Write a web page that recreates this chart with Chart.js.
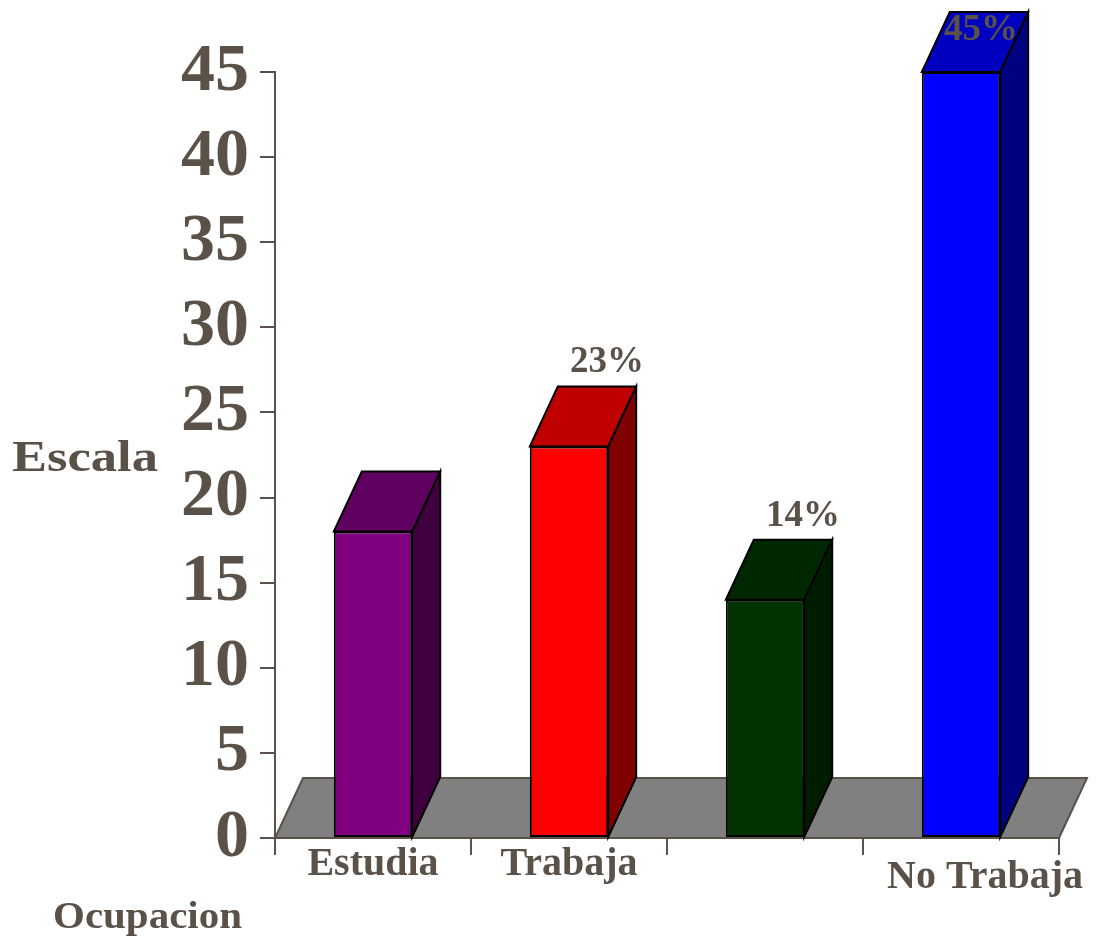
<!DOCTYPE html>
<html>
<head>
<meta charset="utf-8">
<script src="https://cdn.jsdelivr.net/npm/chart.js@4.4.1/dist/chart.umd.min.js"></script>
<style>
  html, body { margin: 0; padding: 0; background: #fff; }
</style>
</head>
<body>
<canvas id="ocupacionChart" width="1096" height="941"></canvas>
<script>
const categories = ['Estudia', 'Trabaja', '', 'No Trabaja'];
const values = [18, 23, 14, 45];
const valueLabels = [null, '23%', '14%', '45%'];
const frontColors = ['#800080', '#ff0000', '#003300', '#0000ff'];
const topColors = ['#600060', '#c00000', '#002800', '#0000c0'];
const sideColors = ['#400040', '#800000', '#001c00', '#000080'];

const TXT = '#5a5149';
const SERIF = '"Liberation Serif", "Times New Roman", serif';
const DX = 28, DY = -60;

function poly(ctx, pts, fill, stroke) {
    ctx.beginPath();
    ctx.moveTo(pts[0][0], pts[0][1]);
    for (let i = 1; i < pts.length; i++) ctx.lineTo(pts[i][0], pts[i][1]);
    ctx.closePath();
    ctx.fillStyle = fill;
    ctx.fill();
    ctx.lineWidth = 2;
    ctx.strokeStyle = stroke;
    ctx.stroke();
}

// draw text stretched sideways to a given width
function wideText(ctx, text, x, y, w) {
    const sx = w / ctx.measureText(text).width;
    ctx.save();
    ctx.translate(x, y);
    ctx.scale(sx, 1);
    ctx.fillText(text, 0, 0);
    ctx.restore();
}

const threeD = {
    id: 'threeD',
    beforeDatasetsDraw(chart) {
        const { ctx, chartArea: a } = chart;
        ctx.save();
        poly(ctx, [[a.left, a.bottom], [a.right, a.bottom], [a.right + DX, a.bottom + DY], [a.left + DX, a.bottom + DY]], '#808080', TXT);
        ctx.restore();
    },
    afterDatasetsDraw(chart) {
        const ctx = chart.ctx;
        const meta = chart.getDatasetMeta(0);
        ctx.save();
        meta.data.forEach((bar, i) => {
            const l = bar.x - bar.width / 2, r = bar.x + bar.width / 2;
            poly(ctx, [[l, bar.y], [r, bar.y], [r + DX, bar.y + DY], [l + DX, bar.y + DY]], topColors[i], '#000');
            poly(ctx, [[r, bar.y], [r + DX, bar.y + DY], [r + DX, bar.base + DY], [r, bar.base]], sideColors[i], '#000');
        });
        // value labels, pushed inside the top face when there is no room above
        ctx.fillStyle = TXT;
        ctx.font = 'bold 37px ' + SERIF;
        ctx.textAlign = 'center';
        ctx.textBaseline = 'alphabetic';
        meta.data.forEach((bar, i) => {
            if (!valueLabels[i]) return;
            const y = bar.y - 74;
            if (y < 40) ctx.fillText(valueLabels[i], bar.x + 20, 40);
            else ctx.fillText(valueLabels[i], bar.x + 38, y);
        });
        ctx.restore();
    },
    afterDraw(chart) {
        const { ctx, scales } = chart;
        ctx.save();
        ctx.fillStyle = TXT;
        ctx.textBaseline = 'alphabetic';
        // category labels
        ctx.font = 'bold 40px ' + SERIF;
        ctx.textAlign = 'center';
        categories.forEach((c, i) => {
            const x = scales.x.getPixelForTick(i);
            const last = i === categories.length - 1;
            ctx.fillText(c, x + (last ? 24 : 0), scales.x.top + (last ? 50 : 37));
        });
        // axis titles
        ctx.textAlign = 'left';
        ctx.font = 'bold 44px ' + SERIF;
        wideText(ctx, 'Escala', 12, 471, 146);
        ctx.font = 'bold 37px ' + SERIF;
        wideText(ctx, 'Ocupacion', 53, 928, 189);
        ctx.restore();
    }
};

new Chart(document.getElementById('ocupacionChart'), {
    type: 'bar',
    data: {
        labels: categories,
        datasets: [{
            data: values,
            backgroundColor: frontColors,
            borderColor: '#000',
            borderWidth: 2,
            borderSkipped: false,
            barPercentage: 0.4,
            categoryPercentage: 1
        }]
    },
    options: {
        responsive: false,
        devicePixelRatio: 1,
        animation: false,
        layout: { padding: { top: 72, right: 37, left: 0, bottom: 0 } },
        plugins: { legend: { display: false }, tooltip: { enabled: false } },
        scales: {
            y: {
                min: 0,
                max: 45,
                ticks: {
                    stepSize: 5,
                    color: TXT,
                    padding: 11,
                    font: { family: SERIF, size: 68, weight: 'bold' }
                },
                grid: { drawOnChartArea: false, tickLength: 15, color: TXT, lineWidth: 2 },
                border: { color: TXT, width: 2 },
                afterFit(s) { s.width = 275; }
            },
            x: {
                ticks: { display: false },
                grid: { drawOnChartArea: false, offset: true, tickLength: 17, color: TXT, lineWidth: 2 },
                border: { color: TXT, width: 2 },
                afterFit(s) { s.height = 103; }
            }
        }
    },
    plugins: [threeD]
});
</script>
</body>
</html>
